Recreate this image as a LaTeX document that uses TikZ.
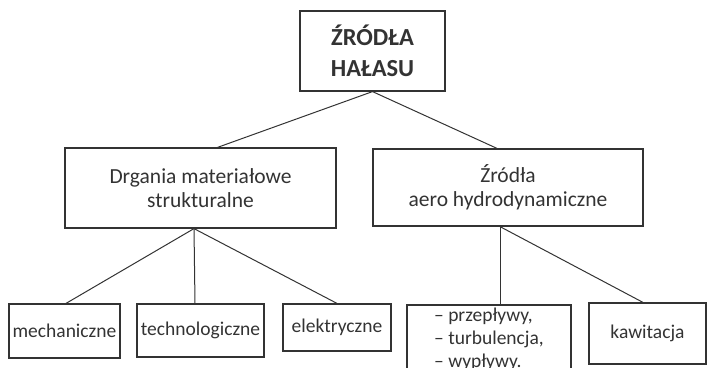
\documentclass[tikz,border=0pt]{standalone}
\usepackage{fontspec}
\setmainfont{Carlito}
\usetikzlibrary{calc}
\definecolor{ink}{HTML}{333333}
\begin{document}
\begin{tikzpicture}[x=1pt,y=-1pt,
  box/.style={draw=ink,line width=1.2pt,rectangle,inner sep=0pt,text=ink,align=center,
    font=\fontsize{19.5}{23}\selectfont},
  mid/.style={box,font=\fontsize{21.5}{24.5}\selectfont},
  conn/.style={draw=ink,line width=1pt}]
\useasboundingbox (0,0) rectangle (707,367);
\node[box,minimum width=145pt,minimum height=80pt,font=\fontsize{24.5}{31}\selectfont\bfseries] (top) at (372.5,51) {ŹRÓDŁA\\HAŁASU};
\node[mid,minimum width=271pt,minimum height=80pt] (left) at (200.5,188) {Drgania materiałowe\\strukturalne};
\node[mid,minimum width=270pt,minimum height=77pt] (right) at (508,187.5) {Źródła\\aero hydrodynamiczne};
\node[box,minimum width=111pt,minimum height=54pt] (mech) at (64.5,331) {mechaniczne};
\node[box,minimum width=127pt,minimum height=53pt] (tech) at (200.5,330.5) {technologiczne};
\node[box,minimum width=108pt,minimum height=47pt] (elek) at (337,327.5) {elektryczne};
\node[box,minimum width=164pt,minimum height=69pt,align=left] (prze) at (489,339.5) {– przepływy,\\– turbulencja,\\– wypływy.};
\node[box,minimum width=117pt,minimum height=61pt] (kaw) at (647.5,333.5) {kawitacja};
\draw[conn] (top.south) -- ([xshift=17pt]left.north);
\draw[conn] (top.south) -- ([xshift=-11pt]right.north);
\draw[conn] ([xshift=-6.5pt]left.south) -- ([xshift=1.5pt]mech.north);
\draw[conn] ([xshift=-6.5pt]left.south) -- ([xshift=-5.5pt]tech.north);
\draw[conn] ([xshift=-6.5pt]left.south) -- (elek.north);
\draw[conn] ([xshift=-8pt]right.south) -- ([xshift=11pt]prze.north);
\draw[conn] ([xshift=-8pt]right.south) -- ([xshift=-4.5pt]kaw.north);
\end{tikzpicture}
\end{document}
